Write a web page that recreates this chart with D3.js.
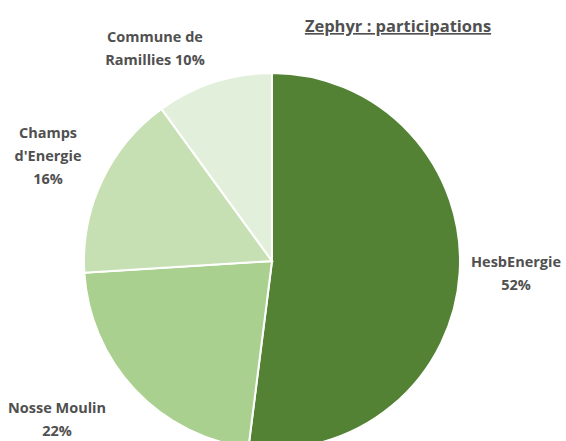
<!DOCTYPE html>
<html>
<head>
<meta charset="utf-8">
<script src="https://cdn.jsdelivr.net/npm/d3@7"></script>
<style>
  body { margin: 0; background: #fff; }
  svg text { font-family: "Open Sans", sans-serif; fill: #505050; }
</style>
</head>
<body>
<div id="chart"></div>
<script>
const names = ['HesbEnergie', 'Nosse Moulin', "Champs d'Energie", 'Commune de Ramillies'];
const values = [52, 22, 16, 10];
const colors = ['#548235', '#a9d08e', '#c6e0b4', '#e2efda'];
const labelLines = [
  ['HesbEnergie', '52%'],
  ['Nosse Moulin', '22%'],
  ['Champs', "d'Energie", '16%'],
  ['Commune de', 'Ramillies 10%']
];

const width = 566, height = 441;
const cx = 272, cy = 261, radius = 188;

// where each label block sits (centre of the first line), relative to pie centre
const labelAnchor = [[244, 1], [-215, 147], [-224, -128], [-117, -224]];

const svg = d3.select('#chart').append('svg')
  .attr('width', width)
  .attr('height', height);

svg.append('text')
  .attr('x', 398)
  .attr('y', 32)
  .attr('text-anchor', 'middle')
  .style('font-size', '16.5px')
  .style('font-weight', 700)
  .style('text-decoration', 'underline')
  .text('Zephyr : participations');

const pie = d3.pie().sort(null).value(d => d);
const arc = d3.arc().innerRadius(0).outerRadius(radius);

const g = svg.append('g').attr('transform', `translate(${cx},${cy})`);

g.selectAll('path')
  .data(pie(values))
  .join('path')
  .attr('d', arc)
  .attr('fill', (d, i) => colors[i])
  .attr('stroke', '#fff')
  .attr('stroke-width', 2);

const labels = g.selectAll('text.lbl')
  .data(labelLines)
  .join('text')
  .attr('class', 'lbl')
  .attr('text-anchor', 'middle')
  .attr('transform', (d, i) => `translate(${labelAnchor[i][0]},${labelAnchor[i][1]})`)
  .style('font-size', '14.5px')
  .style('font-weight', 700);

labels.selectAll('tspan')
  .data(d => d)
  .join('tspan')
  .attr('x', 0)
  .attr('dy', (d, j) => j === 0 ? '0.35em' : 23)
  .text(d => d);
</script>
</body>
</html>
